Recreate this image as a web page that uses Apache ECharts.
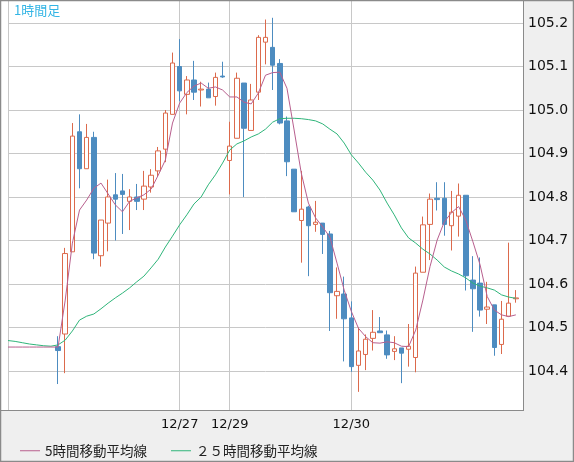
<!DOCTYPE html>
<html>
<head>
<meta charset="utf-8">
<script src="https://cdn.jsdelivr.net/npm/echarts@6/dist/echarts.min.js"></script>
<style>
html, body { margin: 0; padding: 0; background: #efefef; }
#chart { width: 574px; height: 462px; }
</style>
</head>
<body>
<div id="chart"></div>
<script>
//データ (1時間足, 73 slots, candles from slot 7)
var lead = 7;
var dateLabels = {24: '12/27', 31: '12/29', 48: '12/30'};
var opens  = [104.456,104.485,104.674,104.95,104.865,104.937,104.665,104.74,104.805,104.814,104.79,104.8,104.795,104.823,104.86,104.91,104.99,105.1,105.036,105.069,105.046,105.048,105.031,105.078,104.884,104.935,105.062,104.953,105.041,105.156,105.144,105.107,104.975,104.864,104.746,104.777,104.737,104.74,104.715,104.573,104.577,104.522,104.413,104.438,104.475,104.492,104.483,104.445,104.453,104.45,104.431,104.627,104.737,104.797,104.797,104.734,104.756,104.804,104.609,104.602,104.542,104.552,104.461,104.526,104.566];
var closes = [104.447,104.67,104.94,104.865,104.937,104.671,104.747,104.8,104.795,104.806,104.8,104.79,104.825,104.85,104.906,104.993,105.108,105.044,105.069,105.041,105.048,105.028,105.075,105.076,104.917,105.073,104.958,105.023,105.167,105.167,105.103,104.97,104.881,104.766,104.772,104.734,104.742,104.714,104.58,104.583,104.52,104.41,104.446,104.473,104.489,104.488,104.437,104.451,104.441,104.457,104.625,104.736,104.795,104.794,104.737,104.765,104.804,104.619,104.589,104.54,104.547,104.454,104.519,104.556,104.568];
var lows   = [104.37,104.395,104.674,104.82,104.865,104.657,104.64,104.675,104.7,104.715,104.724,104.77,104.77,104.81,104.846,104.88,104.99,105.02,104.99,105.023,105.008,105.028,105.01,105.074,104.806,104.935,104.8,104.953,105.023,105.105,105.046,104.967,104.848,104.766,104.649,104.618,104.72,104.669,104.492,104.52,104.422,104.398,104.352,104.402,104.447,104.488,104.428,104.425,104.372,104.41,104.397,104.627,104.655,104.769,104.711,104.677,104.709,104.585,104.49,104.525,104.508,104.435,104.439,104.526,104.557];
var highs  = [104.48,104.683,104.97,104.99,104.968,104.95,104.747,104.84,104.855,104.853,104.818,104.83,104.86,104.864,104.915,105.0,105.132,105.163,105.078,105.113,105.065,105.063,105.086,105.111,104.973,105.086,105.062,105.06,105.172,105.208,105.212,105.117,104.985,104.864,104.86,104.78,104.791,104.74,104.722,104.638,104.617,104.56,104.5,104.484,104.54,104.524,104.493,104.48,104.453,104.508,104.64,104.755,104.808,104.834,104.834,104.814,104.831,104.804,104.664,104.661,104.605,104.552,104.561,104.695,104.586];
var ma5  = [104.455,104.455,104.455,104.455,104.455,104.455,104.455,104.455,104.563,104.694,104.77,104.793,104.82,104.832,104.807,104.782,104.766,104.79,104.798,104.805,104.818,104.85,104.885,104.97,105.016,105.04,105.055,105.062,105.05,105.053,105.046,105.03,105.03,105.018,105.014,105.039,105.08,105.086,105.087,105.05,104.954,104.855,104.786,104.752,104.731,104.708,104.648,104.586,104.537,104.498,104.479,104.465,104.464,104.467,104.465,104.457,104.456,104.494,104.563,104.64,104.701,104.743,104.764,104.778,104.747,104.697,104.644,104.571,104.54,104.529,104.525,104.529,null];
var ma25 = [104.47,104.468,104.465,104.462,104.46,104.458,104.457,104.46,104.471,104.492,104.517,104.526,104.531,104.543,104.556,104.568,104.579,104.591,104.605,104.618,104.637,104.657,104.685,104.71,104.736,104.759,104.784,104.8,104.828,104.851,104.878,104.908,104.922,104.929,104.938,104.945,104.956,104.972,104.98,104.981,104.981,104.98,104.978,104.975,104.968,104.956,104.945,104.924,104.897,104.878,104.857,104.839,104.816,104.786,104.759,104.729,104.706,104.694,104.68,104.669,104.655,104.639,104.63,104.623,104.614,104.602,104.595,104.591,104.586,104.575,104.57,104.567,null];

var slots = [], kData = [];
for (var i = 0; i < 73; i++) {
    slots.push(dateLabels[i] || '');
    var k = i - lead;
    //ローソク足 [始値, 終値, 安値, 高値]
    kData.push(k >= 0 && k < opens.length ? [opens[k], closes[k], lows[k], highs[k]] : '-');
}
var gridLines = [0, 24, 31, 48];

var chart = echarts.init(document.getElementById('chart'));
chart.setOption({
    animation: false,
    backgroundColor: '#efefef',
    textStyle: {fontFamily: '"Noto Sans CJK JP", "DejaVu Sans", sans-serif'},
    graphic: [
        {type: 'rect', z: -10, shape: {x: 1, y: 1, width: 522, height: 409}, style: {fill: '#fff'}},
        {type: 'text', z: 10, left: 14, top: 4, style: {text: '1時間足', fill: '#33b5e5', fontSize: 13, fontFamily: '"Noto Sans CJK JP"'}},
        {type: 'line', z: 10, shape: {x1: 523.5, y1: 0, x2: 523.5, y2: 410}, style: {stroke: '#8a8a8a', lineWidth: 1}},
        {type: 'line', z: 10, shape: {x1: 0, y1: 410.5, x2: 524, y2: 410.5}, style: {stroke: '#8a8a8a', lineWidth: 1}},
        {type: 'rect', z: 10, shape: {x: 0.5, y: 0.5, width: 573, height: 461}, style: {fill: null, stroke: '#8a8a8a', lineWidth: 1.5}}
    ],
    legend: {
        left: 15, top: 439,
        itemWidth: 20, itemHeight: 1, itemGap: 24,
        icon: 'rect',
        textStyle: {fontSize: 13.5, color: '#222', fontFamily: '"Noto Sans CJK JP"'},
        data: ['5時間移動平均線', '２５時間移動平均線']
    },
    grid: {left: 8, right: 51, top: 0, bottom: 52},
    xAxis: {
        type: 'category', data: slots, boundaryGap: false,
        axisLine: {show: false}, axisTick: {show: false},
        axisLabel: {
            margin: 8, fontSize: 13, color: '#111', fontFamily: '"DejaVu Sans"',
            interval: function (idx) { return !!dateLabels[idx]; }
        },
        splitLine: {
            show: true, lineStyle: {color: '#c8c8c8'},
            interval: function (idx) { return gridLines.indexOf(idx) >= 0; }
        }
    },
    yAxis: {
        type: 'value', position: 'right', scale: true,
        min: 104.3103, max: 105.2529, splitNumber: 9,
        axisLine: {show: false}, axisTick: {show: false},
        axisLabel: {
            margin: 5, fontSize: 14, color: '#111', fontFamily: '"DejaVu Sans"',
            showMinLabel: false, showMaxLabel: false,
            formatter: function (v) { return v.toFixed(1); }
        },
        splitLine: {lineStyle: {color: '#c8c8c8'}}
    },
    series: [
        {
            type: 'candlestick', data: kData, barWidth: 5,
            itemStyle: {color: '#fff', color0: '#4d8cc0', borderColor: '#dc6a4c', borderColor0: '#4d8cc0', borderWidth: 1}
        },
        {
            name: '２５時間移動平均線', type: 'line', data: ma25, symbol: 'none',
            color: '#2fb57a', lineStyle: {width: 1, color: '#2fb57a'}
        },
        {
            name: '5時間移動平均線', type: 'line', data: ma5, symbol: 'none',
            color: '#b85f8e', lineStyle: {width: 1, color: '#b85f8e'}
        }
    ]
});
</script>
</body>
</html>
